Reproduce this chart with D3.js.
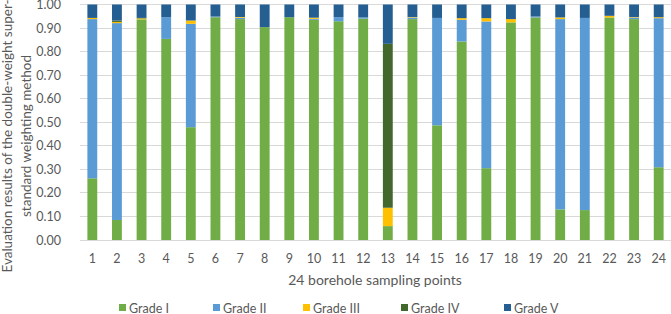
<!DOCTYPE html>
<html><head><meta charset="utf-8">
<script src="https://cdn.jsdelivr.net/npm/d3@7"></script>
<style>body{margin:0;background:#fff}svg{display:block}text{font-family:Lato,"Open Sans",sans-serif;fill:#595959}</style>
</head><body><svg id="c" width="671" height="314"></svg>
<script>
const categories = d3.range(1,25).map(String);
const gradeI   = [0.262,0.085,0.937,0.854,0.479,0.946,0.938,0.904,0.946,0.935,0.929,0.940,0.059,0.938,0.487,0.843,0.305,0.924,0.945,0.130,0.127,0.945,0.938,0.309];
const gradeII  = [0.676,0.836,0.000,0.092,0.439,0.003,0.006,0.000,0.000,0.004,0.017,0.005,0.000,0.007,0.456,0.092,0.623,0.000,0.004,0.808,0.816,0.000,0.007,0.633];
const gradeIII = [0.005,0.005,0.004,0.000,0.014,0.000,0.003,0.000,0.000,0.005,0.000,0.000,0.078,0.002,0.000,0.007,0.014,0.014,0.000,0.007,0.000,0.007,0.002,0.004];
const gradeIV  = [0.000,0.006,0.002,0.000,0.000,0.000,0.000,0.000,0.000,0.000,0.000,0.000,0.696,0.000,0.000,0.000,0.000,0.000,0.000,0.000,0.000,0.000,0.000,0.000];
const gradeV   = categories.map((c,i)=>1-gradeI[i]-gradeII[i]-gradeIII[i]-gradeIV[i]);
const seriesNames = ["Grade I","Grade II","Grade III","Grade IV","Grade V"];
const seriesVals = [gradeI,gradeII,gradeIII,gradeIV,gradeV];
const colors = ["#70AD47","#5B9BD5","#FFC000","#43682B","#255E91"];
const yTicks = d3.range(0,11).map(d=>d/10);

const svg = d3.select("#c");
const x = d3.scaleBand().domain(categories).range([80,671]).paddingInner(0.6).paddingOuter(0.3);
const y = d3.scaleLinear().domain([0,1]).range([240,4.5]);

// gridlines
svg.append("g").selectAll("line").data(yTicks).join("line")
  .attr("x1",80).attr("x2",671).attr("y1",d=>y(d)).attr("y2",d=>y(d))
  .attr("stroke","#d9d9d9").attr("stroke-width",1).attr("shape-rendering","crispEdges");

// stacked bars
const rows = categories.map((c,i)=>{const o={cat:c};seriesNames.forEach((s,k)=>o[s]=seriesVals[k][i]);return o;});
const stacked = d3.stack().keys(seriesNames)(rows);
svg.append("g").selectAll("g").data(stacked).join("g").attr("fill",(d,i)=>colors[i])
  .selectAll("rect").data(d=>d).join("rect")
  .attr("x",d=>x(d.data.cat)).attr("width",x.bandwidth())
  .attr("y",d=>y(d[1])).attr("height",d=>Math.max(0,y(d[0])-y(d[1])));

// y axis
const ya = svg.append("g").attr("transform","translate(80,0)")
  .call(d3.axisLeft(y).tickValues(yTicks).tickFormat(d3.format(".2f")).tickSize(0).tickPadding(19));
ya.select(".domain").remove();
ya.selectAll("text").attr("font-size",12.5).style("font-family","Lato,sans-serif").attr("fill","#595959");

// x axis
const xa = svg.append("g").attr("transform","translate(0,240)")
  .call(d3.axisBottom(x).tickSize(0).tickPadding(14));
xa.select(".domain").attr("stroke","#d9d9d9");
xa.selectAll("text").attr("font-size",12.5).style("font-family","Lato,sans-serif").attr("fill","#595959");

// axis titles
svg.append("text").attr("x",375).attr("y",285).attr("text-anchor","middle").attr("font-size",14).text("24 borehole sampling points");
const yt = svg.append("text").attr("transform","translate(0,136) rotate(-90)").attr("text-anchor","middle").attr("font-size",13.5);
yt.append("tspan").attr("x",0).attr("y",12).text("Evaluation results of the double-weight super-");
yt.append("tspan").attr("x",0).attr("y",31).text("standard weighting method");

// legend
const lx = [119,213,303,401,504];
const lg = svg.append("g").selectAll("g").data(seriesNames).join("g").attr("transform",(d,i)=>`translate(${lx[i]},308)`);
lg.append("rect").attr("x",0).attr("y",-4).attr("width",7).attr("height",7).attr("fill",(d,i)=>colors[i]);
lg.append("text").attr("x",10).attr("y",4.5).attr("font-size",12.5).text(d=>d);
</script></body></html>
